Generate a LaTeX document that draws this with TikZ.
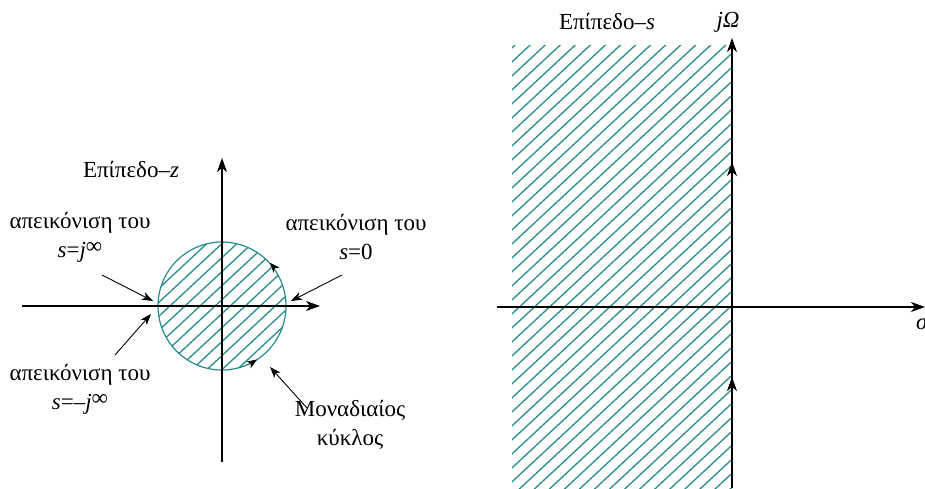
\documentclass[tikz,border=0pt]{standalone}
\usepackage{fontspec}
\setmainfont{Liberation Serif}
\usetikzlibrary{arrows.meta}
\definecolor{hatch}{RGB}{40,140,140}
\tikzset{
  axis/.style={line width=1.1pt, -{Stealth[length=14pt,width=10pt,inset=4pt]}},
  note/.style={line width=0.9pt, -{Stealth[length=11pt,width=8pt,inset=3pt]}},
  midtip/.style={line width=1.1pt, -{Stealth[length=14pt,width=10pt,inset=4pt]}},
  circtip/.style={line width=0.8pt, -{Stealth[length=10pt,width=8pt,inset=3pt]}},
  hl/.style={hatch, line width=1.3pt},
  lbl/.style={font=\fontsize{23}{29}\selectfont, align=center, inner sep=0pt}
}
\newcommand{\infsym}{\raisebox{0.35ex}{∞}}
\begin{document}
\begin{tikzpicture}[x=1pt,y=-1pt]
\useasboundingbox (0,0) rectangle (925,488);
% ---------- z-plane ----------
\begin{scope}
  \clip (222,306) circle [radius=64];
  \foreach \c in {380,394,...,660}
    \draw[hl] (100,\c-93) -- (350,\c-325.5);
\end{scope}
\draw[hatch, line width=1.2pt] (222,306) circle [radius=64];
\coordinate (zl) at (22,306);
\coordinate (zr) at (320,306);
\coordinate (zb) at (222,462);
\coordinate (zt) at (222,158);
\draw[axis] (zl) -- (zr);
\draw[axis] (zb) -- (zt);
% arrowheads on the unit circle (counterclockwise)
\coordinate (c1a) at (275.0,268.4);
\coordinate (c1b) at (270.0,262.8);
\coordinate (c2a) at (249.5,364.3);
\coordinate (c2b) at (257.0,359.6);
\draw[circtip] (c1a) -- (c1b);
\draw[circtip] (c2a) -- (c2b);
% labels
\node[lbl] (tz) at (131,169) {Επίπεδο–\textit{z}};
\node[lbl] (la) at (80,237) {απεικόνιση του\\\textit{s}=\textit{j}\infsym};
\node[lbl] (lb) at (356,237) {απεικόνιση του\\\textit{s}=0};
\node[lbl] (lc) at (80,389) {απεικόνιση του\\\textit{s}=–\textit{j}\infsym};
\node[lbl] (ld) at (350,425) {Μοναδιαίος\\κύκλος};
\coordinate (a1s) at (102,275);
\coordinate (a1e) at (153,301);
\coordinate (a2s) at (115,355);
\coordinate (a2e) at (151,314);
\coordinate (a3s) at (342,275);
\coordinate (a3e) at (291,301);
\coordinate (a4s) at (307,408);
\coordinate (a4e) at (270,367);
\draw[note] (a1s) -- (a1e);
\draw[note] (a2s) -- (a2e);
\draw[note] (a3s) -- (a3e);
\draw[note] (a4s) -- (a4e);
% ---------- s-plane ----------
\begin{scope}
  \clip (512,45) rectangle (732,488);
  \foreach \c in {510,524,...,1190}
    \draw[hl] (480,\c-446.4) -- (760,\c-706.8);
\end{scope}
\coordinate (sl) at (497,307);
\coordinate (sr) at (925,307);
\coordinate (sb) at (732,488);
\coordinate (st) at (732,38);
\draw[axis] (sl) -- (sr);
\draw[axis] (sb) -- (st);
\coordinate (m1a) at (732,185);
\coordinate (m1b) at (732,162);
\coordinate (m2a) at (732,395);
\coordinate (m2b) at (732,377);
\draw[midtip] (m1a) -- (m1b);
\draw[midtip] (m2a) -- (m2b);
\node[lbl] (ts) at (607,22) {Επίπεδο–\textit{s}};
\node[lbl] (tj) at (728,22) {\textit{jΩ}};
\node[lbl, anchor=west] (tsig) at (916,324) {\textit{σ}};
\end{tikzpicture}
\end{document}
